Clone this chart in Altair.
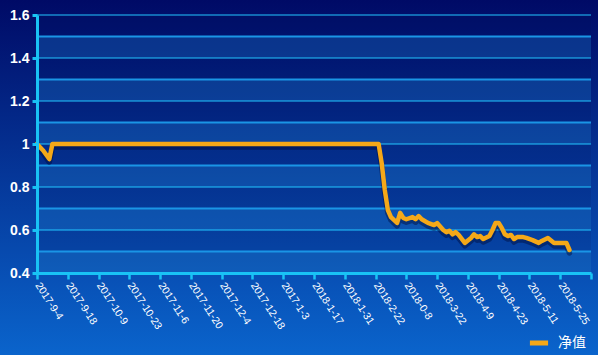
import altair as alt
import pandas as pd

# ---- data ----
x_labels = ["2017-9-4", "2017-9-18", "2017-10-9", "2017-10-23", "2017-11-6",
            "2017-11-20", "2017-12-4", "2017-12-18", "2017-1-3", "2018-1-17",
            "2018-1-31", "2018-2-22", "2018-0-8", "2018-3-22", "2018-4-9",
            "2018-4-23", "2018-5-11", "2018-5-25"]
label_step = 10
x_max = 180

idx = [0, 2, 4, 5, 111, 112, 113, 114, 115, 117, 118, 119, 120, 122, 123, 124,
       125, 127, 129, 130, 132, 133, 134, 135, 136, 137, 139, 141, 142, 143,
       144, 145, 147, 148, 149, 150, 151, 152, 153, 154, 155, 156, 158, 159,
       161, 163, 164, 166, 168, 170, 172, 173]
nav = [1.0, 0.97, 0.93, 1.0, 1.0, 0.91, 0.786, 0.693, 0.66, 0.633, 0.68, 0.656,
       0.65, 0.66, 0.65, 0.665, 0.65, 0.633, 0.623, 0.632, 0.6, 0.59, 0.596,
       0.58, 0.59, 0.577, 0.54, 0.563, 0.58, 0.567, 0.572, 0.558, 0.572, 0.6,
       0.633, 0.633, 0.61, 0.58, 0.572, 0.577, 0.558, 0.567, 0.567, 0.563,
       0.553, 0.54, 0.549, 0.563, 0.54, 0.54, 0.54, 0.507]
series_name = "净值"

y_ticks = [0.4, 0.6, 0.8, 1.0, 1.2, 1.4, 1.6]
band_starts = [0.4, 0.6, 0.8, 1.0, 1.2, 1.4]
major_grid = [0.6, 0.8, 1.0, 1.2, 1.4, 1.6]
minor_grid = [0.5, 0.7, 0.9, 1.1, 1.3, 1.5]

W, H = 554, 258
PAD = {"left": 37, "top": 15, "right": 7, "bottom": 82}

line_df = pd.DataFrame({"i": idx, "v": nav, "series": series_name})
band_df = pd.DataFrame({"y0": band_starts})
major_df = pd.DataFrame({"y": major_grid})
minor_df = pd.DataFrame({"y": minor_grid})
one = pd.DataFrame({"a": [0]})

xscale = alt.Scale(domain=[0, x_max], nice=False, zero=False)
yscale = alt.Scale(domain=[0.4, 1.6], nice=False, zero=False)

arr = "[" + ",".join("'%s'" % s for s in x_labels) + "]"
label_expr = "datum.value < %d ? %s[datum.value / %d] : ''" % (len(x_labels) * label_step, arr, label_step)

x_axis = alt.Axis(values=list(range(0, x_max + 1, label_step)), labelExpr=label_expr,
                  labelAngle=57, labelAlign="left", labelBaseline="middle",
                  labelColor="white", labelFontSize=10.5, labelFont="Liberation Sans",
                  labelPadding=4, labelOverlap=False, domainColor="#19c3f5",
                  domainWidth=3, tickColor="#19c3f5", tickWidth=2.5, tickSize=6,
                  grid=False, title=None, zindex=2)
y_axis = alt.Axis(values=y_ticks, format="~g", labelColor="white", labelFontSize=14,
                  labelFontWeight="bold", labelFont="Liberation Sans", labelPadding=3,
                  domainColor="#19c3f5", domainWidth=3, tickColor="#19c3f5",
                  tickWidth=3, tickSize=5, grid=False, title=None, zindex=2)

bg_grad = alt.Gradient(gradient="linear",
                       stops=[alt.GradientStop(color="#000a66", offset=0),
                              alt.GradientStop(color="#0a64cc", offset=1)],
                       x1=0, x2=0, y1=0, y2=1)

bg = alt.Chart(one).mark_rect(color=bg_grad).encode(
    x=alt.value(-PAD["left"]), x2=alt.value(W + PAD["right"]),
    y=alt.value(-PAD["top"]), y2=alt.value(H + PAD["bottom"]))

plot_dark = alt.Chart(one).mark_rect(color="#001050", opacity=0.12).encode(
    x=alt.value(0), x2=alt.value(W), y=alt.value(0), y2=alt.value(H))

bands = alt.Chart(band_df).mark_rect(color="#2a9df0", opacity=0.24).transform_calculate(
    y1="datum.y0 + 0.1").encode(
    x=alt.value(0), x2=alt.value(W),
    y=alt.Y("y0:Q", scale=yscale, axis=y_axis), y2="y1:Q")

minor = alt.Chart(minor_df).mark_rule(color="#1a95e6", strokeWidth=2).encode(
    x=alt.value(0), x2=alt.value(W), y=alt.Y("y:Q", scale=yscale))

major = alt.Chart(major_df).mark_rule(color="#22c6ff", strokeWidth=1.2).encode(
    x=alt.value(0), x2=alt.value(W), y=alt.Y("y:Q", scale=yscale))

shadow = alt.Chart(line_df).transform_calculate(vs="datum.v - 0.014").mark_line(
    color="#000c3a", opacity=0.45, strokeWidth=5.5, strokeJoin="round", strokeCap="round").encode(
    x=alt.X("i:Q", scale=xscale, axis=x_axis), y=alt.Y("vs:Q", scale=yscale))

line = alt.Chart(line_df).mark_line(strokeWidth=4.5, strokeJoin="round", strokeCap="round").encode(
    x=alt.X("i:Q", scale=xscale, axis=x_axis),
    y=alt.Y("v:Q", scale=yscale, axis=y_axis),
    color=alt.Color("series:N", scale=alt.Scale(domain=[series_name], range=["#f5a818"]),
                    legend=alt.Legend(orient="none", legendX=490, legendY=316, title=None,
                                      symbolType="stroke", symbolStrokeWidth=5, symbolSize=330,
                                      labelColor="white", labelFontSize=14,
                                      labelFont="Noto Sans CJK SC", labelOffset=7)))

chart = alt.layer(bg, plot_dark, bands, minor, major, shadow, line).properties(
    width=W, height=H, padding=PAD, autosize="none", background="#053a9b"
).configure_view(stroke=None)

chart.save("out.html", embed_options={"renderer": "svg", "actions": False})
